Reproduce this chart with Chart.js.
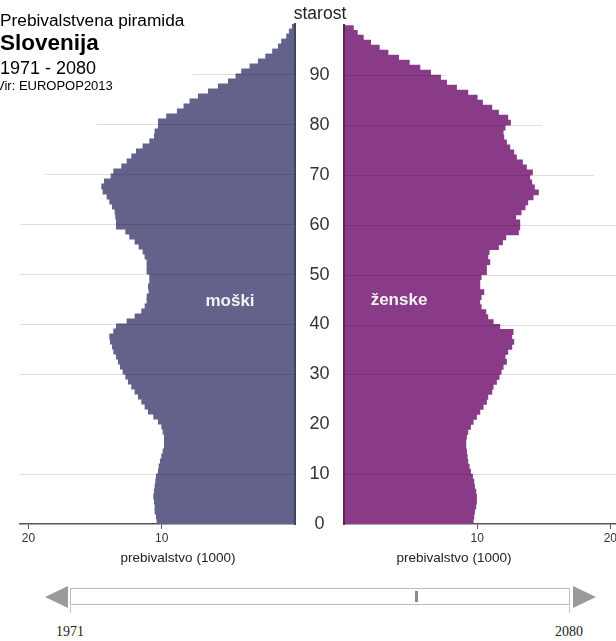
<!DOCTYPE html>
<html>
<head>
<meta charset="utf-8">
<script src="https://cdn.jsdelivr.net/npm/chart.js@4.4.0/dist/chart.umd.min.js"></script>
<style>
html,body{margin:0;padding:0;width:616px;height:641px;overflow:hidden;background:#fff;font-family:"Liberation Sans",Arial,sans-serif;}
#wrap{position:relative;width:616px;height:641px;overflow:hidden;}
.box{position:absolute;}
.t{position:absolute;white-space:nowrap;line-height:1;color:#000;}
.c{text-align:center;}
</style>
</head>
<body>
<div id="wrap">
  <div class="box" style="left:0;top:0;width:296px;height:560px"><canvas id="maleChart"></canvas></div>
  <div class="box" style="left:295px;top:0;width:324px;height:560px"><canvas id="femaleChart"></canvas></div>

  <div class="t" style="left:0;top:11.6px;font-size:17.3px;">Prebivalstvena piramida</div>
  <div class="t" style="left:0;top:32px;font-size:22.5px;font-weight:bold;">Slovenija</div>
  <div class="t" style="left:0;top:59px;font-size:18px;">1971 - 2080</div>
  <div class="t" style="left:-4px;top:79px;font-size:13px;">Vir: EUROPOP2013</div>

  <div class="t c" style="left:270px;width:100px;top:5px;font-size:17.5px;color:#222;">starost</div>

  <div class="t c" style="left:180px;width:100px;top:291.6px;font-size:17px;font-weight:bold;color:#f2f2f2;">moški</div>
  <div class="t c" style="left:349px;width:100px;top:290.6px;font-size:17px;font-weight:bold;color:#f2f2f2;">ženske</div>

  <div class="t c" style="left:98px;width:160px;top:551px;font-size:13.5px;color:#222;">prebivalstvo (1000)</div>
  <div class="t c" style="left:374px;width:160px;top:551px;font-size:13.5px;color:#222;">prebivalstvo (1000)</div>

  <!-- time slider -->
  <div style="position:absolute;left:45px;top:586px;width:0;height:0;border-top:11px solid transparent;border-bottom:11px solid transparent;border-right:23px solid #9a9a9a;"></div>
  <div style="position:absolute;left:70px;top:588px;width:500px;height:17px;border:1px solid #bdbdbd;box-sizing:border-box;background:#fff;"></div>
  <div style="position:absolute;left:415px;top:591px;width:3px;height:11px;background:#8a8a8a;"></div>
  <div style="position:absolute;left:573px;top:586px;width:0;height:0;border-top:11px solid transparent;border-bottom:11px solid transparent;border-left:23px solid #9a9a9a;"></div>
  <div style="position:absolute;left:70px;top:606px;width:1px;height:7px;background:#c8c8c8;"></div>
  <div style="position:absolute;left:569px;top:606px;width:1px;height:7px;background:#c8c8c8;"></div>
  <div class="t c" style="left:50px;width:40px;top:625px;font-size:14px;font-family:'Liberation Serif','Times New Roman',serif;color:#222;">1971</div>
  <div class="t c" style="left:549px;width:40px;top:625px;font-size:14px;font-family:'Liberation Serif','Times New Roman',serif;color:#222;">2080</div>
</div>

<script>
// ---------- data ----------
const AGES = Array.from({length: 100}, (_, i) => i); // age groups 0..99
// males (thousands), index = age
const MALE = [
  10.35,10.4,10.5,10.5,10.55,10.6,10.55,10.5,10.45,10.4,
  10.25,10.2,10.1,10.0,9.9,9.8,9.8,9.8,9.9,10.0,
  10.25,10.6,11.0,11.25,11.5,11.75,12.0,12.25,12.5,12.7,
  12.9,13.1,13.25,13.4,13.6,13.7,13.85,13.9,13.6,13.4,
  12.6,12.0,11.5,11.25,11.1,11.1,10.95,11.0,10.9,10.9,
  11.1,11.1,11.1,11.25,11.4,11.7,12.0,12.4,12.7,13.4,
  13.4,13.45,13.5,13.7,13.9,14.1,14.4,14.5,14.3,13.8,
  13.6,13.0,12.6,12.25,11.9,11.4,10.9,10.55,10.5,10.25,
  10.25,9.63,8.83,8.33,7.88,7.25,6.5,5.75,5.0,4.43,
  4.0,3.38,2.75,2.2,1.68,1.25,1.0,0.63,0.43,0.2
];
// females (thousands), index = age
const FEMALE = [
  9.7,9.75,9.8,9.9,9.95,9.95,9.9,9.8,9.75,9.65,
  9.5,9.4,9.3,9.25,9.2,9.15,9.15,9.2,9.3,9.5,
  9.7,9.95,10.2,10.45,10.7,10.8,11.1,11.2,11.45,11.65,
  11.8,11.95,12.2,12.1,12.3,12.6,12.75,12.6,12.7,11.7,
  11.2,10.8,10.65,10.3,10.2,10.3,10.5,10.2,10.2,10.3,
  10.7,10.7,10.95,10.8,10.9,11.6,11.9,12.15,13.1,13.2,
  13.2,12.9,13.3,13.6,13.8,14.2,14.6,14.3,14.1,13.95,
  14.15,13.7,13.4,12.95,12.75,12.45,12.2,12.0,11.95,12.1,
  12.5,12.3,11.6,11.1,10.4,10.0,9.3,8.45,7.7,7.25,
  6.5,5.7,4.9,4.1,3.3,2.65,2.0,1.45,1.0,0.7
];
const AGE_TICKS = [0,10,20,30,40,50,60,70,80,90];
const POP_TICKS = [10,20];
// how far (thousands) each age guide line reaches out from the centre (0 = none)
const GUIDE_AGES  = [10, 20, 30, 40, 50, 60, 70, 80, 90];
const GUIDE_REACH = [99, 0, 99, 99, 99, 99, 18.75, 14.9, 7.65];

// ---------- styling ----------
const X_MAX = 20.63;
const FONT = '"Liberation Sans", Arial, sans-serif';

const guidePlugin = {
  id: 'guides',
  afterDatasetsDraw(chart, args, opts) {
    const {ctx, scales: {x, y}} = chart;
    ctx.save();
    ctx.strokeStyle = opts.color;
    ctx.lineWidth = 1;
    GUIDE_AGES.forEach((age, i) => {
      const reach = Math.min(GUIDE_REACH[i], x.max);
      if (!reach) return;
      const py = Math.round(y.getPixelForValue(age)) + 0.5;
      ctx.beginPath();
      ctx.moveTo(x.getPixelForValue(0), py);
      ctx.lineTo(x.getPixelForValue(reach), py);
      ctx.stroke();
    });
    ctx.restore();
  }
};

function makeChart(id, values, color, isLeft, borderColor) {
  return new Chart(document.getElementById(id), {
    type: 'bar',
    data: {
      datasets: [{
        data: AGES.map((a, i) => ({x: values[i], y: a + 0.5})),
        backgroundColor: color,
        borderWidth: 0,
        barPercentage: 1,
        categoryPercentage: 1,
        inflateAmount: 0.4
      }]
    },
    options: {
      indexAxis: 'y',
      responsive: true,
      maintainAspectRatio: false,
      animation: false,
      events: [],
      layout: {padding: isLeft ? {left: 20, right: 1, top: 24, bottom: 0} : {left: 0, right: 0, top: 24, bottom: 0}},
      plugins: {legend: {display: false}, tooltip: {enabled: false}, guides: {color: 'rgba(0,0,0,0.13)'}},
      scales: {
        x: {
          type: 'linear',
          reverse: isLeft,
          min: 0,
          max: X_MAX,
          afterBuildTicks: s => { s.ticks = POP_TICKS.map(v => ({value: v})); },
          afterFit: s => { s.height = 36; },
          grid: {display: true, drawOnChartArea: false, drawTicks: true, tickLength: 5, tickColor: '#555', lineWidth: 1},
          border: {display: true, color: '#555', width: 1.5},
          ticks: {color: '#333', font: {family: FONT, size: 12}, padding: 2, maxRotation: 0, autoSkip: false}
        },
        y: {
          type: 'linear',
          position: isLeft ? 'right' : 'left',
          offset: false,
          min: 0,
          max: 100,
          afterBuildTicks: s => { s.ticks = AGE_TICKS.map(v => ({value: v})); },
          afterFit: s => { s.width = isLeft ? 0 : 49; },
          grid: {display: false, drawTicks: false, offset: false},
          border: {display: true, color: borderColor, width: 2, z: 1},
          ticks: {
            display: !isLeft,
            color: '#333',
            font: {family: FONT, size: 18},
            crossAlign: 'center',
            padding: 14.5,
            autoSkip: false
          }
        }
      }
    },
    plugins: [guidePlugin]
  });
}

makeChart('maleChart', MALE, '#63628a', true, '#45445f');
makeChart('femaleChart', FEMALE, '#8a3b87', false, '#5e1f5c');
</script>
</body>
</html>
